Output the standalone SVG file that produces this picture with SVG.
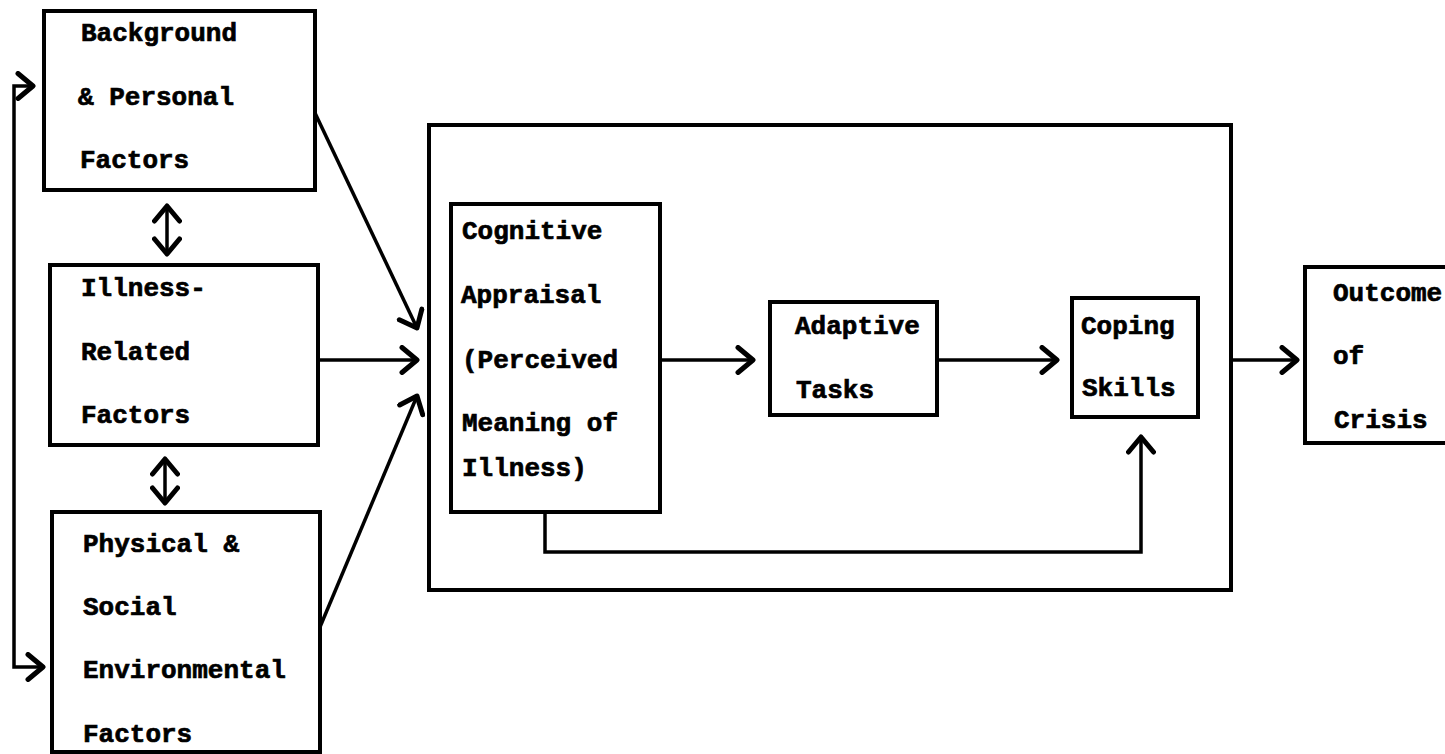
<svg xmlns="http://www.w3.org/2000/svg" width="1445" height="754" viewBox="0 0 1445 754">
  <defs>
    <marker id="arrow" markerUnits="userSpaceOnUse" markerWidth="30" markerHeight="30" viewBox="-16 -12 20 24" refX="0" refY="0" orient="auto-start-reverse">
      <path d="M-12,-10 L0,0 L-12,10" fill="none" stroke="#000" stroke-width="4" stroke-linecap="round" stroke-linejoin="round"/>
    </marker>
  </defs>
  <style>
    .box { fill: none; stroke: #000; stroke-width: 4; }
    .link { fill: none; stroke: #000; stroke-width: 3.5; }
    .lbl { font-family: "Liberation Mono", "DejaVu Sans Mono", monospace; font-weight: bold; font-size: 26px; fill: #000; stroke: #000; stroke-width: 0.7; }
  </style>
  <rect width="1445" height="754" fill="#fff"/>

  <g id="background-personal">
    <rect class="box" x="44" y="11" width="271" height="179"/>
    <text class="lbl" x="81" y="41">Background</text>
    <text class="lbl" x="78" y="105">&amp; Personal</text>
    <text class="lbl" x="80" y="168">Factors</text>
  </g>

  <g id="illness-related">
    <rect class="box" x="50" y="265" width="268" height="180"/>
    <text class="lbl" x="81" y="296">Illness-</text>
    <text class="lbl" x="81" y="360">Related</text>
    <text class="lbl" x="81" y="423">Factors</text>
  </g>

  <g id="physical-social">
    <rect class="box" x="52" y="512" width="268" height="240"/>
    <text class="lbl" x="83" y="552">Physical &amp;</text>
    <text class="lbl" x="83" y="615">Social</text>
    <text class="lbl" x="83" y="678">Environmental</text>
    <text class="lbl" x="83" y="742">Factors</text>
  </g>

  <g id="process-frame">
    <rect class="box" x="429" y="125" width="802" height="465"/>
  </g>

  <g id="cognitive-appraisal">
    <rect class="box" x="451" y="204" width="209" height="308"/>
    <text class="lbl" x="462" y="239">Cognitive</text>
    <text class="lbl" x="461" y="303">Appraisal</text>
    <text class="lbl" x="462" y="368">(Perceived</text>
    <text class="lbl" x="462" y="431">Meaning of</text>
    <text class="lbl" x="462" y="476">Illness)</text>
  </g>

  <g id="adaptive-tasks">
    <rect class="box" x="770" y="302" width="167" height="113"/>
    <text class="lbl" x="795" y="334">Adaptive</text>
    <text class="lbl" x="796" y="398">Tasks</text>
  </g>

  <g id="coping-skills">
    <rect class="box" x="1072" y="298" width="126" height="119"/>
    <text class="lbl" x="1081" y="334">Coping</text>
    <text class="lbl" x="1082" y="396">Skills</text>
  </g>

  <g id="outcome">
    <path class="box" d="M1460,267 L1305,267 L1305,443 L1460,443"/>
    <text class="lbl" x="1333" y="301">Outcome</text>
    <text class="lbl" x="1333" y="364">of</text>
    <text class="lbl" x="1334" y="428">Crisis</text>
  </g>

  <g id="connectors">
    <!-- mutual links between the antecedent factors -->
    <line class="link" x1="167" y1="206" x2="167" y2="254" marker-start="url(#arrow)" marker-end="url(#arrow)"/>
    <line class="link" x1="165" y1="459" x2="165" y2="503" marker-start="url(#arrow)" marker-end="url(#arrow)"/>
    <!-- loop joining background factors and environmental factors -->
    <path class="link" d="M33,86 L14,86 L14,667 L43,667" marker-start="url(#arrow)" marker-end="url(#arrow)"/>
    <!-- factors into cognitive appraisal -->
    <line class="link" x1="315" y1="113" x2="417" y2="328" marker-end="url(#arrow)"/>
    <line class="link" x1="318" y1="360" x2="417" y2="360" marker-end="url(#arrow)"/>
    <line class="link" x1="320" y1="627" x2="417" y2="396" marker-end="url(#arrow)"/>
    <!-- main sequence -->
    <line class="link" x1="660" y1="360" x2="753" y2="360" marker-end="url(#arrow)"/>
    <line class="link" x1="937" y1="360" x2="1057" y2="360" marker-end="url(#arrow)"/>
    <line class="link" x1="1231" y1="360" x2="1297" y2="360" marker-end="url(#arrow)"/>
    <!-- appraisal directly feeding coping -->
    <path class="link" d="M545,512 L545,552 L1141,552 L1141,437" marker-end="url(#arrow)"/>
  </g>
</svg>
